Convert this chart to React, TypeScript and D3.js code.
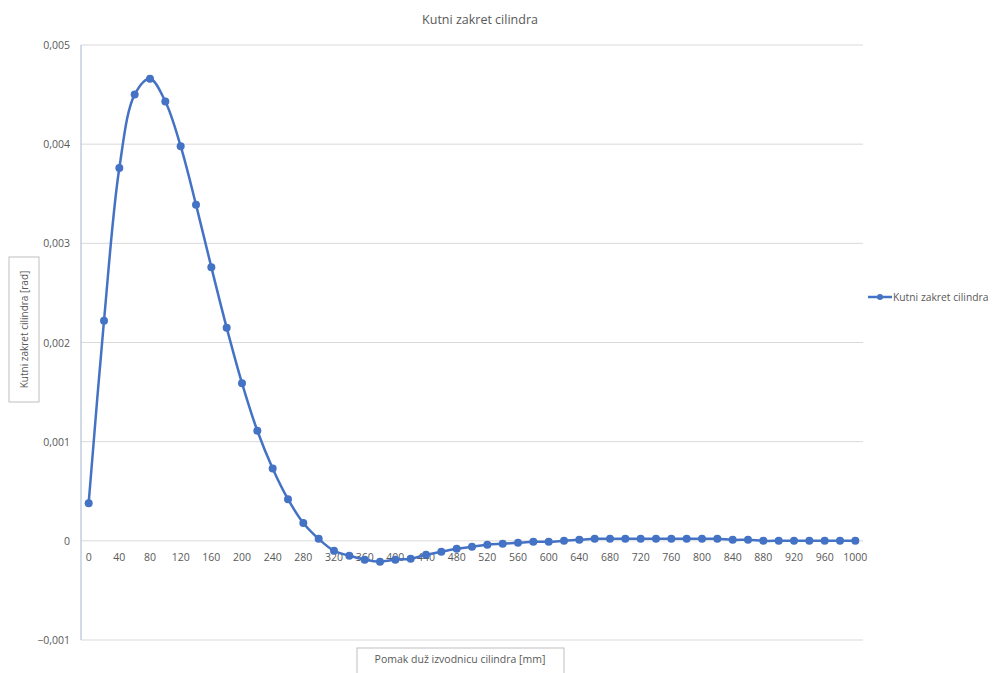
import React from "react";
import * as d3 from "d3";

const xCats = d3.range(0, 1001, 20);
const yValues = [
  0.00038, 0.00222, 0.00376, 0.0045, 0.00466, 0.00443, 0.00398, 0.00339, 0.00276, 0.00215,
  0.00159, 0.00111, 0.00073, 0.00042, 0.00018, 0.00002, -0.0001, -0.00015, -0.00019, -0.00021,
  -0.00019, -0.00018, -0.00014, -0.00011, -0.00008, -0.00006, -0.00004, -0.00003, -0.00002, -0.00001,
  -0.00001, 0.0, 0.00001, 0.00002, 0.00002, 0.00002, 0.00002, 0.00002, 0.00002, 0.00002,
  0.00002, 0.00002, 0.00001, 0.00001, 0.0, 0.0, 0.0, 0.0, 0.0, 0.0, 0.0,
];
const yTicks = [-0.001, 0, 0.001, 0.002, 0.003, 0.004, 0.005];
const title = "Kutni zakret cilindra";
const yTitle = "Kutni zakret cilindra [rad]";
const xTitle = "Pomak duž izvodnicu cilindra [mm]";
const seriesName = "Kutni zakret cilindra";

const W = 999;
const H = 673;
const left = 81;
const right = 863;
const top = 45;
const bottom = 640;
const blue = "#4472C4";
const font = "'Open Sans', 'Noto Sans', sans-serif";
const gray = "#595959";

const fmt = (v: number) => (v === 0 ? "0" : d3.format(".3f")(v).replace(".", ","));

export default function App() {
  const x = d3.scaleBand<number>().domain(xCats).range([left, right]);
  const y = d3.scaleLinear().domain([-0.001, 0.005]).range([bottom, top]);
  const cx = (d: number) => (x(d) as number) + x.bandwidth() / 2;
  const pts: [number, number][] = xCats.map((c, i) => [cx(c), y(yValues[i])]);
  const line = d3.line().curve(d3.curveCatmullRom.alpha(0.5))(pts) || "";
  const y0 = y(0);

  return (
    <svg width={W} height={H} style={{ position: "absolute", left: 0, top: 0, background: "#fff" }}>
      <text x={480} y={24} textAnchor="middle" fontFamily={font} fontSize={12.5} fill={gray}>
        {title}
      </text>
      {yTicks.map((t) => (
        <g key={t}>
          <line x1={left} x2={right} y1={y(t)} y2={y(t)} stroke="#d9d9d9" strokeWidth={1} />
          <text x={70} y={y(t) + 4} textAnchor="end" fontFamily={font} fontSize={10.5} fill={gray}>
            {fmt(t)}
          </text>
        </g>
      ))}
      <line x1={left} x2={left} y1={top} y2={bottom} stroke="#a4b6cf" strokeWidth={1} />
      {xCats.map((c, i) =>
        i % 2 === 0 ? (
          <text key={c} x={cx(c)} y={y0 + 20} textAnchor="middle" fontFamily={font} fontSize={10.5} fill={gray}>
            {c}
          </text>
        ) : null
      )}
      <path d={line} fill="none" stroke={blue} strokeWidth={2.5} />
      {pts.map((p, i) => (
        <circle key={i} cx={p[0]} cy={p[1]} r={4} fill={blue} />
      ))}
      <rect x={9} y={257} width={30} height={145} fill="none" stroke="#bfbfbf" strokeWidth={1} />
      <text
        transform={`translate(28,${329.5}) rotate(-90)`}
        textAnchor="middle"
        fontFamily={font}
        fontSize={10}
        fill={gray}
      >
        {yTitle}
      </text>
      <rect x={357} y={648} width={207} height={30} fill="none" stroke="#bfbfbf" strokeWidth={1} />
      <text x={460} y={663} textAnchor="middle" fontFamily={font} fontSize={10.5} fill={gray}>
        {xTitle}
      </text>
      <line x1={868} x2={892} y1={297} y2={297} stroke={blue} strokeWidth={2.5} />
      <circle cx={880} cy={297} r={3} fill={blue} />
      <text x={893} y={301} fontFamily={font} fontSize={10.3} fill={gray}>
        {seriesName}
      </text>
    </svg>
  );
}
